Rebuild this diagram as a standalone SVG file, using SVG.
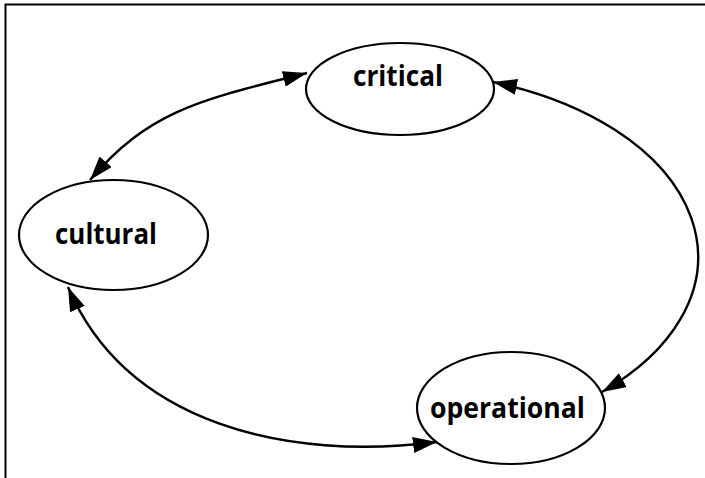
<svg xmlns="http://www.w3.org/2000/svg" width="705" height="478" viewBox="0 0 705 478">
<style>
.node ellipse{fill:#fff;stroke:#000;stroke-width:2.2}
.node text{font-family:"Open Sans","Liberation Sans",sans-serif;font-weight:bold;font-size:29px;fill:#000;text-anchor:middle}
.edge{fill:none;stroke:#000;stroke-width:2.4;marker-start:url(#ah);marker-end:url(#ah)}
</style>
<defs>
<marker id="ah" markerUnits="userSpaceOnUse" viewBox="0 0 24 16" markerWidth="24" markerHeight="16" refX="24" refY="8" orient="auto-start-reverse">
<path d="M0,0 L24,8 L0,16 z" fill="#000"/>
</marker>
</defs>
<rect width="705" height="478" fill="#fff"/>
<polyline points="5.5,478 5.5,4.5 705,4.5" fill="none" stroke="#000" stroke-width="2"/>
<g id="connectors">
<path class="edge" d="M307,73 C200,100 150,110 90,180"/>
<path class="edge" d="M493,82 A303.6 185 0 0 1 602,392"/>
<path class="edge" d="M68,287 C127,425 288,461 437,442"/>
</g>
<g id="critical" class="node">
<ellipse cx="400" cy="89" rx="94" ry="46"/>
<text x="398" y="86" textLength="90" lengthAdjust="spacingAndGlyphs">critical</text>
</g>
<g id="cultural" class="node">
<ellipse cx="113.5" cy="235" rx="94.5" ry="55"/>
<text x="106" y="244" textLength="102" lengthAdjust="spacingAndGlyphs">cultural</text>
</g>
<g id="operational" class="node">
<ellipse cx="511" cy="408" rx="94" ry="56"/>
<text x="507.5" y="418" textLength="155" lengthAdjust="spacingAndGlyphs">operational</text>
</g>
</svg>
